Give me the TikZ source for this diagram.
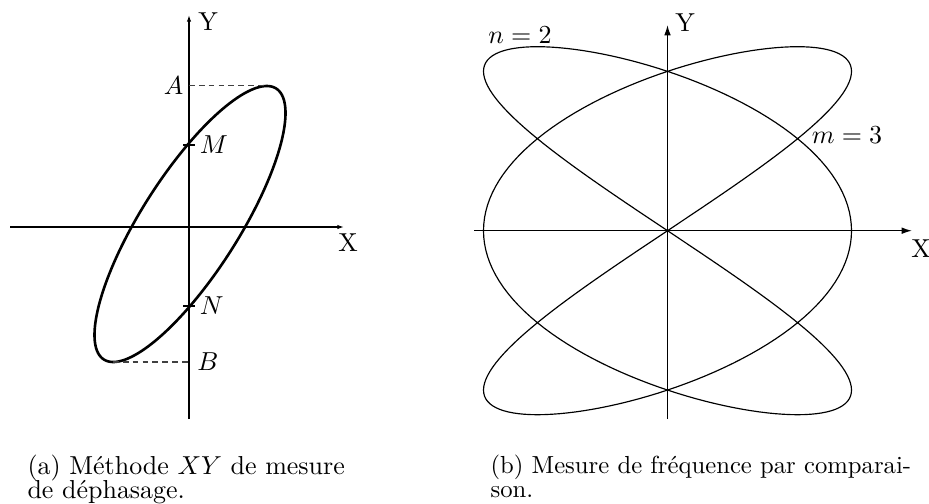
\documentclass[tikz,border=0pt]{standalone}
\usepackage{amsmath,amssymb}
\usepackage{tikz}
\usetikzlibrary{arrows.meta,positioning}

\begin{document}
\begin{tikzpicture}[x=0.385pt,y=-0.385pt,
      ax/.style={line width=0.5pt},
      axa/.style={ax,-{Latex[length=0.9mm,width=0.6mm]}},
      axb/.style={ax,-{Latex[length=1.4mm,width=0.9mm]}},
      crv/.style={line width=1pt},
      lis/.style={line width=0.45pt},
      dsh/.style={black!75,line width=0.4pt,dash pattern=on 2.2pt off 1.6pt},
      tk/.style={line width=0.9pt},
      lb/.style={inner sep=1.5pt},
      cp/.style={anchor=north west,align=left,inner sep=0pt,
                 font=\fontsize{10}{9.6}\selectfont}]
  \useasboundingbox (0,0) rectangle (929,503);

  % (a) ellipse
  \coordinate (axw) at (10,227);
  \coordinate (axe) at (344,227);
  \coordinate (ays) at (189,419);
  \coordinate (ayn) at (189,15);
  \draw[axa] (axw) -- (axe);
  \draw[axa] (ays) -- (ayn);
  \node[lb] (aX) at (348,243) {X};
  \node[lb] (aY) at (208,22) {Y};
  \draw[crv] plot[variable=\t,domain=0:360,samples=181]
     ({190+95.5*sin(\t)},{224-138*sin(\t+36.5)}) -- cycle;
  \coordinate (pa) at (267,85.5);
  \coordinate (pb) at (113,362);
  \coordinate (ta) at (189,85.5);
  \coordinate (tb) at (189,362);
  \coordinate (tm) at (189,145);
  \coordinate (tn) at (189,306);
  \draw[dsh] (ta) -- (pa);
  \draw[dsh] (pb) -- (tb);
  \draw[tk] ([xshift=-2.3pt]tm) -- ([xshift=2.3pt]tm);
  \draw[tk] ([xshift=-2.3pt]tn) -- ([xshift=2.3pt]tn);
  \node[lb,left=0.5pt of ta] (lA) {$A$};
  \node[lb,right=1.5pt of tb] (lB) {$B$};
  \node[lb,right=2.5pt of tm] (lM) {$M$};
  \node[lb,right=2.5pt of tn] (lN) {$N$};

  % (b) lissajous
  \coordinate (bxw) at (474,230.7);
  \coordinate (bxe) at (912,230.7);
  \coordinate (bys) at (667.5,419);
  \coordinate (byn) at (667.5,25);
  \draw[axb] (bxw) -- (bxe);
  \draw[axb] (bys) -- (byn);
  \node[lb] (bX) at (921,249) {X};
  \node[lb] (bY) at (685,23) {Y};
  \draw[lis] plot[variable=\t,domain=0:360,samples=361]
     ({667.5+184*sin(3*\t)},{230.7-184*sin(2*\t)}) -- cycle;
  \node[lb] (ln) at (520,35) {$n=2$};
  \node[lb] (lm) at (847,135) {$m=3$};

  \node[cp] (capa) at (27,454) {(a) Méthode $XY$ de mesure\\de déphasage.};
  \node[cp,font=\fontsize{9.5}{9.6}\selectfont] (capb) at (490,454)
     {(b) Mesure de fréquence par comparai-\\son.};
\end{tikzpicture}
\end{document}
